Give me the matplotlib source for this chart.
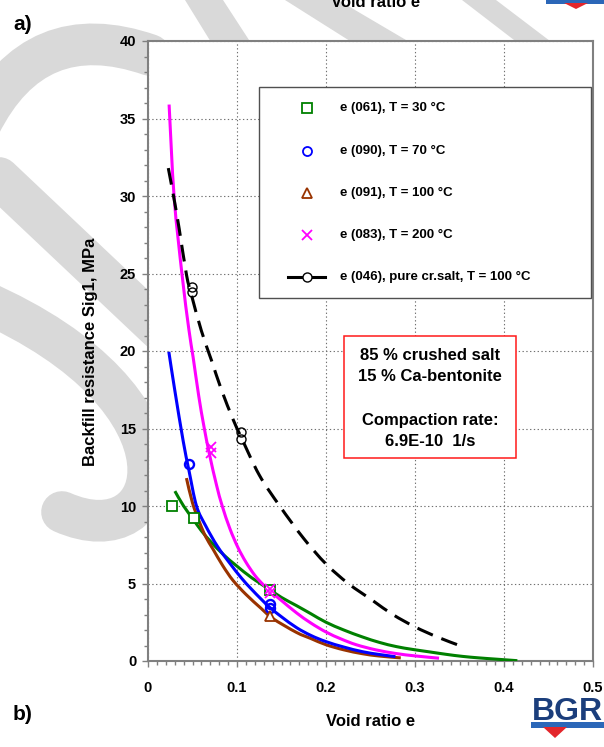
import matplotlib
matplotlib.use('Agg')
import numpy as np
import matplotlib.pyplot as plt
from matplotlib.patches import Rectangle, Polygon, PathPatch
from matplotlib.path import Path
from matplotlib.lines import Line2D
from matplotlib.ticker import MultipleLocator

plt.rcParams['font.family'] = ['Liberation Sans', 'DejaVu Sans']

# ---------------- data ----------------
# fitted curves
pink_x = [0.0237, 0.0294, 0.0383, 0.0459, 0.0507, 0.057, 0.0628, 0.069, 0.0769, 0.0834,
          0.092, 0.101, 0.110, 0.120, 0.129, 0.137, 0.150, 0.167, 0.183, 0.200, 0.217, 0.234,
          0.256, 0.279, 0.300, 0.327]
pink_y = [35.9, 29.9, 24.9, 21.4, 19.6, 17.1, 15.15, 13.35, 11.37, 10.0,
          8.54, 7.33, 6.38, 5.53, 4.95, 4.52, 3.9, 3.1, 2.45, 1.87, 1.42, 1.05,
          0.72, 0.48, 0.33, 0.18]

blue_x = [0.0234, 0.030, 0.0395, 0.046, 0.0545, 0.065, 0.078, 0.092, 0.105, 0.116, 0.127,
          0.137, 0.150, 0.167, 0.183, 0.200, 0.220, 0.241, 0.260, 0.278]
blue_y = [19.95, 17.5, 14.2, 12.3, 10.0, 8.7, 7.4, 6.3, 5.35, 4.65, 4.0,
          3.45, 2.85, 2.15, 1.65, 1.25, 0.9, 0.6, 0.42, 0.28]

brown_x = [0.0432, 0.050, 0.058, 0.065, 0.073, 0.084, 0.0955, 0.110, 0.127, 0.140, 0.1666,
           0.183, 0.200, 0.220, 0.241, 0.260, 0.284]
brown_y = [11.8, 10.2, 8.93, 8.0, 7.22, 6.15, 5.2, 4.3, 3.4, 2.75, 1.85,
           1.45, 1.05, 0.72, 0.47, 0.32, 0.2]

green_x = [0.0302, 0.040, 0.0507, 0.060, 0.0713, 0.085, 0.0993, 0.117, 0.137, 0.150, 0.1666,
           0.183, 0.200, 0.220, 0.241, 0.260, 0.279, 0.297, 0.316, 0.335, 0.353, 0.372,
           0.391, 0.415]
green_y = [10.96, 10.0, 9.15, 8.4, 7.65, 6.85, 6.15, 5.35, 4.6, 4.1, 3.58,
           3.05, 2.5, 2.0, 1.55, 1.2, 0.93, 0.75, 0.59, 0.43, 0.3, 0.2,
           0.12, 0.02]

black_x = [0.0228, 0.029, 0.035, 0.0433, 0.0489, 0.060, 0.0713, 0.0825, 0.0955, 0.105, 0.125,
           0.148, 0.175, 0.200, 0.225, 0.2525, 0.275, 0.300, 0.325, 0.350]
black_y = [31.8, 29.9, 27.9, 24.9, 23.6, 21.3, 19.4, 17.5, 15.6, 14.4, 12.0,
           10.0, 7.9, 6.26, 5.0, 3.9, 3.0, 2.2, 1.55, 1.0]

# measured points
sq_x = [0.0265, 0.0515, 0.137]
sq_y = [10.0, 9.2, 4.6]
ci_x = [0.0462, 0.137, 0.137]
ci_y = [12.74, 3.69, 3.41]
tr_x = [0.1367]
tr_y = [2.9]
xm_x = [0.0705, 0.0705, 0.137, 0.137]
xm_y = [13.8, 13.45, 4.65, 4.4]
bc_x = [0.049, 0.049, 0.105, 0.105]
bc_y = [24.15, 23.8, 14.8, 14.33]

legend_labels = ['e (061), T = 30 °C', 'e (090), T = 70 °C', 'e (091), T = 100 °C',
                 'e (083), T = 200 °C', 'e (046), pure cr.salt, T = 100 °C']
box_lines = ['85 % crushed salt', '15 % Ca-bentonite', 'Compaction rate:', '6.9E-10  1/s']

x_ticks = [0, 0.1, 0.2, 0.3, 0.4, 0.5]
x_ticklabels = ['0', '0.1', '0.2', '0.3', '0.4', '0.5']
y_ticks = [0, 5, 10, 15, 20, 25, 30, 35, 40]

GREEN = '#008000'
BLUE = '#0000ff'
BROWN = '#993300'
PINK = '#ff00ff'
WMARK = '#d9d9d9'

XMAX, YMAX = 0.5, 40.0

# ---------------- figure ----------------
W, H = 604, 747
fig = plt.figure(figsize=(W / 100, H / 100), dpi=100)


def fx(px):
    return px / W


def fy(py):
    return 1 - py / H


def P(pts):
    return [(fx(a), fy(b)) for a, b in pts]


# ---- background watermark (light grey swooshes, behind the white plot area) ----
wm_lw = 30
for verts, codes in [
    ([(-20, 125), (35, 15), (150, 55)], [Path.MOVETO, Path.CURVE3, Path.CURVE3]),
    ([(-20, 160), (160, 330)], [Path.MOVETO, Path.LINETO]),
    ([(-20, 300), (210, 400), (170, 560), (62, 512)],
     [Path.MOVETO, Path.CURVE4, Path.CURVE4, Path.CURVE4]),
]:
    fig.add_artist(PathPatch(Path(P(verts), codes), transform=fig.transFigure, fill=False,
                             edgecolor=WMARK, lw=wm_lw, capstyle='round', zorder=-5))
for poly in [[(185, 0), (223, 0), (262, 60), (222, 60)],
             [(285, 0), (338, 0), (440, 60), (380, 60)],
             [(462, 0), (496, 0), (575, 60), (540, 60)]]:
    fig.add_artist(Polygon(P(poly), closed=True, transform=fig.transFigure,
                           facecolor=WMARK, edgecolor='none', zorder=-5))

ax = fig.add_axes([fx(148), fy(661), (593 - 148) / W, (661 - 41) / H])
ax.set_xlim(0, XMAX)
ax.set_ylim(0, YMAX)
ax.set_facecolor('white')


def smooth_curve(ax, xs, ys, **kw):
    """Draw a smooth (Catmull-Rom / Bezier) curve through the given data points."""
    Q = np.column_stack([np.asarray(xs) / XMAX, np.asarray(ys) / YMAX])
    n = len(Q)
    verts = [tuple(Q[0])]
    codes = [Path.MOVETO]
    for i in range(n - 1):
        p0 = Q[i - 1] if i > 0 else Q[i]
        p1, p2 = Q[i], Q[i + 1]
        p3 = Q[i + 2] if i + 2 < n else Q[i + 1]
        c1 = p1 + (p2 - p0) / 6.0
        c2 = p2 - (p3 - p1) / 6.0
        verts += [tuple(c1), tuple(c2), tuple(p2)]
        codes += [Path.CURVE4] * 3
    patch = PathPatch(Path(verts, codes), transform=ax.transAxes, fill=False,
                      capstyle='butt', joinstyle='round', **kw)
    ax.add_patch(patch)
    return patch


lw = 2.2
smooth_curve(ax, green_x, green_y, edgecolor=GREEN, lw=lw, zorder=3)
smooth_curve(ax, brown_x, brown_y, edgecolor=BROWN, lw=lw, zorder=3)
smooth_curve(ax, blue_x, blue_y, edgecolor=BLUE, lw=lw, zorder=3)
smooth_curve(ax, pink_x, pink_y, edgecolor=PINK, lw=lw, zorder=3)
smooth_curve(ax, black_x, black_y, edgecolor='black', lw=lw, linestyle=(0, (5.5, 3.0)), zorder=3)

mew = 1.3
ax.plot(sq_x, sq_y, ls='none', marker='s', ms=6.5, mfc='white', mec=GREEN, mew=mew, zorder=4)
ax.plot(ci_x, ci_y, ls='none', marker='o', ms=6.5, mfc='none', mec=BLUE, mew=mew + 0.4, zorder=4)
ax.plot(tr_x, tr_y, ls='none', marker='^', ms=7.5, mfc='white', mec=BROWN, mew=mew, zorder=4)
ax.plot(xm_x, xm_y, ls='none', marker='x', ms=6.5, mec=PINK, mew=mew, zorder=5)
ax.plot(bc_x, bc_y, ls='none', marker='o', ms=6.5, mfc='none', mec='black', mew=1.0, zorder=4)

ax.set_xticks(x_ticks)
ax.set_xticklabels(x_ticklabels)
ax.set_yticks(y_ticks)
ax.xaxis.set_minor_locator(MultipleLocator(0.01))
ax.yaxis.set_minor_locator(MultipleLocator(1))
ax.grid(True, which='major', color='#707070', ls=(0, (1.2, 2.2)), lw=0.8)
ax.set_axisbelow(True)
for s in ax.spines.values():
    s.set_color('#808080')
    s.set_linewidth(1.5)
ax.tick_params(which='both', direction='out', color='#808080', width=1.0)
ax.tick_params(which='major', length=4)
ax.tick_params(which='minor', length=3)
ax.tick_params(axis='x', which='major', pad=10.5, labelsize=10.5)
ax.tick_params(axis='y', which='major', pad=4.5, labelsize=10.5)
for lab in ax.get_xticklabels() + ax.get_yticklabels():
    lab.set_fontweight('bold')

# axis titles
fig.text(fx(371), fy(722), 'Void ratio e', ha='center', va='center', fontsize=12, fontweight='bold')
fig.text(fx(91), fy(352), 'Backfill resistance Sig1, MPa', ha='center', va='center',
         rotation=90, fontsize=12, fontweight='bold')

# legend box (drawn manually)
leg = Rectangle((fx(259), fy(298)), (591 - 259) / W, (298 - 87) / H, transform=fig.transFigure,
                facecolor='white', edgecolor='#505050', lw=1.0, zorder=10)
fig.add_artist(leg)
rows = [108.3, 150.7, 193.3, 235.0, 276.7]
mk = [dict(marker='s', ms=6.5, mfc='white', mec=GREEN, mew=mew),
      dict(marker='o', ms=6.5, mfc='white', mec=BLUE, mew=mew),
      dict(marker='^', ms=7.5, mfc='white', mec=BROWN, mew=mew),
      dict(marker='x', ms=6.5, mec=PINK, mew=mew)]
for r, m in zip(rows[:4], mk):
    fig.add_artist(Line2D([fx(306.7)], [fy(r)], ls='none', transform=fig.transFigure, zorder=11, **m))
fig.add_artist(Line2D([fx(288), fx(325)], [fy(rows[4]), fy(rows[4])], color='black', lw=lw,
                      transform=fig.transFigure, zorder=11))
fig.add_artist(Line2D([fx(306.7)], [fy(rows[4])], ls='none', marker='o', ms=6.5, mfc='white',
                      mec='black', mew=1.0, transform=fig.transFigure, zorder=12))
for r, t in zip(rows, legend_labels):
    fig.text(fx(340), fy(r), t, ha='left', va='center', fontsize=9.5, fontweight='bold', zorder=12)

# red info box
box = Rectangle((fx(344), fy(458)), (516 - 344) / W, (458 - 336) / H, transform=fig.transFigure,
                facecolor='white', edgecolor='#ff1a1a', lw=1.1, zorder=10)
fig.add_artist(box)
for yy, t in zip([355, 377, 420, 441], box_lines):
    fig.text(fx(430), fy(yy), t, ha='center', va='center', fontsize=12, fontweight='bold', zorder=12)

# panel letters and cut-off title
fig.text(fx(13), fy(25), 'a)', ha='left', va='center', fontsize=15, fontweight='bold')
fig.text(fx(13), fy(714), 'b)', ha='left', va='center', fontsize=15, fontweight='bold')
fig.text(fx(376), fy(7), 'Void ratio e', ha='center', va='baseline', fontsize=12, fontweight='bold')

# BGR logos
NAVY = '#1b3e7c'
fig.text(fx(567), fy(720), 'BGR', ha='center', va='baseline', fontsize=23, fontweight='bold',
         color=NAVY)
fig.add_artist(Polygon(P([(531, 722), (604, 722), (604, 728), (531, 728)]),
                       closed=True, transform=fig.transFigure, facecolor='#2b67b8', edgecolor='none'))
fig.add_artist(Polygon(P([(543, 727), (567, 727), (555, 738)]),
                       closed=True, transform=fig.transFigure, facecolor='#e3262b', edgecolor='none'))
fig.add_artist(Polygon(P([(546, 0), (604, 0), (604, 4), (546, 4)]),
                       closed=True, transform=fig.transFigure, facecolor='#2b67b8', edgecolor='none'))
fig.add_artist(Polygon(P([(564, 3), (588, 3), (576, 9)]),
                       closed=True, transform=fig.transFigure, facecolor='#e3262b', edgecolor='none'))

fig.savefig('out.png', dpi=100, facecolor='white')
